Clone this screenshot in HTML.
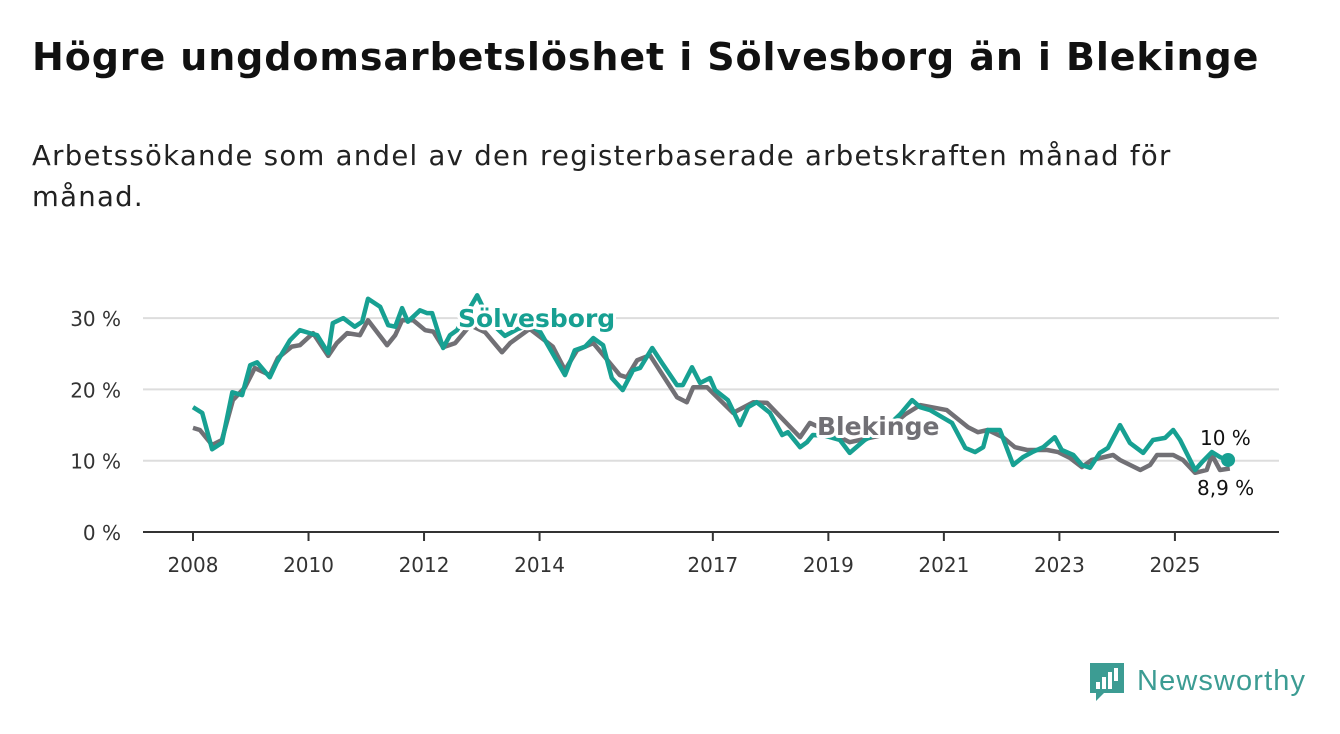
<!DOCTYPE html>
<html><head><meta charset="utf-8"><style>
body{margin:0;width:1340px;height:734px;background:#fff;overflow:hidden;font-family:"DejaVu Sans",sans-serif}
h1{position:absolute;left:32px;top:35px;margin:0;font-size:38px;font-weight:bold;color:#111;letter-spacing:0.9px}
p{position:absolute;left:32px;top:136px;margin:0;font-size:27.5px;line-height:41px;color:#222;width:1250px;letter-spacing:1.3px}
svg{position:absolute;left:0;top:0}
</style></head><body>
<h1>Högre ungdomsarbetslöshet i Sölvesborg än i Blekinge</h1>
<p>Arbetssökande som andel av den registerbaserade arbetskraften månad för<br>månad.</p>
<svg width="1340" height="734" font-family="DejaVu Sans">
<g id="grid"></g><g id="lines"></g><g id="labels"></g>
<g>
<path d="M1090 663h34v30h-20l-8 8v-8h-6z" fill="#3c9c93"/>
<rect x="1096" y="682" width="4" height="7" fill="#fff"/><rect x="1102" y="677" width="4" height="12" fill="#fff"/><rect x="1108" y="672" width="4" height="17" fill="#fff"/><rect x="1114" y="668" width="4" height="13" fill="#fff"/>
<text x="1137" y="690" font-size="29" fill="#3c9c93" font-family="Liberation Sans" textLength="168">Newsworthy</text>
</g>
</svg>
<script>
const yTicks=[0,10,20,30];
const xTickYears=[2008,2010,2012,2014,2017,2019,2021,2023,2025];
const solT=[0,0.16,0.33,0.5,0.68,0.85,0.99,1.11,1.33,1.45,1.68,1.85,2.02,2.15,2.34,2.42,2.6,2.8,2.93,3.03,3.24,3.38,3.5,3.62,3.72,3.93,4.05,4.14,4.33,4.45,4.57,4.92,5.14,5.4,5.63,5.83,6.01,6.44,6.61,6.79,6.93,7.1,7.25,7.44,7.62,7.74,7.95,8.12,8.38,8.48,8.64,8.78,8.95,9.04,9.26,9.47,9.61,9.76,9.99,10.2,10.3,10.51,10.63,10.73,10.94,11.2,11.37,11.63,11.98,12.24,12.45,12.59,12.76,13.14,13.37,13.54,13.68,13.76,13.97,14.2,14.37,14.53,14.72,14.92,15.04,15.24,15.39,15.53,15.7,15.84,16.05,16.22,16.45,16.62,16.83,16.97,17.09,17.35,17.47,17.64,17.78,17.92];
const solV=[17.5,16.7,11.6,12.5,19.6,19.2,23.4,23.8,21.7,23.8,26.9,28.3,27.9,27.6,25.1,29.3,30,28.8,29.5,32.7,31.6,29,28.8,31.4,29.5,31.1,30.7,30.7,25.8,27.6,28.3,33.2,29.5,27.5,28.5,29,28.1,22,25.5,26,27.2,26.2,21.6,19.9,22.7,23,25.8,23.7,20.6,20.6,23.1,20.9,21.6,19.9,18.5,15,17.5,18.2,16.7,13.6,14,11.9,12.6,13.6,13.5,12.9,11.1,12.9,14.5,16.5,18.5,17.5,17.1,15.3,11.8,11.2,11.9,14.3,14.3,9.4,10.5,11.2,11.9,13.3,11.5,10.8,9.4,9,11.1,11.8,15,12.5,11.1,12.9,13.2,14.3,12.9,8.7,9.8,11.2,10.5,10.1];
const bleT=[0,0.12,0.33,0.5,0.69,0.9,1.07,1.33,1.47,1.71,1.85,2.08,2.34,2.49,2.67,2.89,3.03,3.36,3.5,3.62,3.81,4.02,4.16,4.33,4.54,4.8,5.06,5.35,5.49,5.83,6.23,6.44,6.65,6.93,7.39,7.51,7.69,7.91,8.38,8.55,8.66,8.9,9.35,9.7,9.94,10.39,10.51,10.68,11.03,11.37,11.89,12.33,12.59,13.05,13.42,13.59,13.76,14.02,14.23,14.44,14.79,14.98,15.18,15.39,15.56,15.93,16.05,16.4,16.57,16.69,16.97,17.14,17.35,17.55,17.64,17.78,17.95];
const bleV=[14.6,14.3,12.2,12.9,18.5,20.3,23,22,24.4,26,26.2,27.9,24.7,26.5,27.9,27.6,29.7,26.2,27.6,29.7,29.7,28.3,28.1,25.9,26.5,29,28,25.2,26.5,28.5,26,22.7,25.5,26.5,22,21.7,24.1,24.8,18.9,18.2,20.3,20.3,16.7,18.2,18.1,14.3,13.3,15.3,14,12.6,13.5,16.5,17.8,17.1,14.7,14,14.3,13.3,11.9,11.5,11.5,11.2,10.4,9.1,10.1,10.8,10.1,8.7,9.4,10.8,10.8,10.1,8.3,8.7,10.8,8.7,8.9];
const NS="http://www.w3.org/2000/svg";
const X=t=>193+t*57.76, Y=v=>532-v*7.13;
function mk(tag,at,parent){const e=document.createElementNS(NS,tag);for(const k in at)e.setAttribute(k,at[k]);document.getElementById(parent).appendChild(e);return e;}
yTicks.forEach(v=>{
 if(v>0){const g=mk('line',{x1:143,x2:1279,y1:Y(v),y2:Y(v),stroke:'#ddd','stroke-width':2},'grid');
 
 }
 const t=mk('text',{x:121,y:Y(v)+8,'text-anchor':'end','font-size':20,fill:'#333'},'grid');t.textContent=v+' %';
 
 
});
const ax=mk('line',{x1:143,x2:1279,y1:532,y2:532,stroke:'#333','stroke-width':2},'grid');


xTickYears.forEach(yr=>{
 const x=X(yr-2008);
 mk('line',{x1:x,x2:x,y1:532,y2:541,stroke:'#333','stroke-width':2},'grid');
 const t=mk('text',{x:x,y:572,'text-anchor':'middle','font-size':20,fill:'#333'},'grid');t.textContent=yr;
 
 
});
function line(T,V,col,name){
 const d=T.map((t,i)=>(i?'L':'M')+X(t).toFixed(1)+' '+Y(V[i]).toFixed(1)).join('');
 const p=mk('path',{d:d,fill:'none',stroke:col,'stroke-width':4.5,'stroke-linejoin':'round'},'lines');
 
 
}
line(bleT,bleV,'#717075','line-blekinge');
line(solT,solV,'#17a092','line-solvesborg');
const dot=mk('circle',{cx:X(solT[solT.length-1]),cy:Y(solV[solV.length-1]),r:7,fill:'#17a092'},'lines');


function lab(x,y,txt,col,size,w,name){
 const a={x:x,y:y,'font-size':size,'font-weight':w,fill:col,stroke:'#fff','stroke-width':6,'paint-order':'stroke','stroke-linejoin':'round'};
 const t=mk('text',a,'labels');t.textContent=txt;
 
 
}
lab(458,327,'Sölvesborg','#17a092',25,'bold','label-solvesborg');
lab(817,435,'Blekinge','#717075',25,'bold','label-blekinge');
lab(1200,445,'10 %','#111',20,'normal','end-value-solvesborg');
lab(1197,495,'8,9 %','#111',20,'normal','end-value-blekinge');
</script>
</body></html>
